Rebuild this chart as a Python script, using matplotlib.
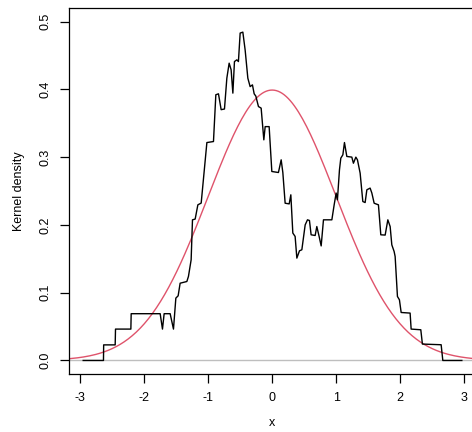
import numpy as np
import matplotlib
matplotlib.use("Agg")
from matplotlib import pyplot as plt

# kernel density estimate
dens_x = [-2.953, -2.636, -2.633, -2.453, -2.448, -2.208, -2.203, -1.750,
          -1.714, -1.688, -1.594, -1.542, -1.505, -1.469, -1.438, -1.333,
          -1.308, -1.266, -1.245, -1.203, -1.161, -1.109, -1.020, -0.917,
          -0.880, -0.839, -0.797, -0.745, -0.708, -0.672, -0.641, -0.614,
          -0.589, -0.552, -0.527, -0.500, -0.458, -0.422, -0.380, -0.344,
          -0.308, -0.281, -0.255, -0.214, -0.172, -0.130, -0.109, -0.047,
          -0.005, 0.098, 0.141, 0.167, 0.203, 0.266, 0.292, 0.323,
          0.359, 0.386, 0.427, 0.464, 0.516, 0.552, 0.583, 0.609,
          0.672, 0.698, 0.734, 0.766, 0.802, 0.933, 0.969, 1.000,
          1.020, 1.052, 1.073, 1.105, 1.130, 1.167, 1.245, 1.270,
          1.308, 1.333, 1.375, 1.417, 1.453, 1.480, 1.531, 1.558,
          1.594, 1.661, 1.698, 1.766, 1.808, 1.844, 1.870, 1.906,
          1.922, 1.958, 1.989, 2.016, 2.156, 2.172, 2.323, 2.348,
          2.641, 2.667, 2.964]
dens_y = [0.0, 0.0, 0.0230, 0.0230, 0.0463, 0.0463, 0.0690, 0.0690,
          0.0463, 0.0690, 0.0690, 0.0463, 0.0920, 0.0954, 0.1140, 0.1165,
          0.1240, 0.1485, 0.2075, 0.2086, 0.2296, 0.2322, 0.3215, 0.3230,
          0.3920, 0.3934, 0.3700, 0.3710, 0.4165, 0.4386, 0.4288, 0.3944,
          0.4410, 0.4435, 0.4410, 0.4830, 0.4844, 0.4580, 0.4165, 0.4040,
          0.4066, 0.3934, 0.3900, 0.3746, 0.3723, 0.3255, 0.3450, 0.3450,
          0.2788, 0.2773, 0.2960, 0.2773, 0.2320, 0.2310, 0.2444, 0.1880,
          0.1830, 0.1510, 0.1618, 0.1633, 0.2000, 0.2075, 0.2065, 0.1854,
          0.1844, 0.1976, 0.1830, 0.1690, 0.2075, 0.2075, 0.2296, 0.2470,
          0.2370, 0.2813, 0.2985, 0.3034, 0.3215, 0.3010, 0.3000, 0.2910,
          0.3000, 0.2960, 0.2764, 0.2345, 0.2330, 0.2518, 0.2543, 0.2470,
          0.2320, 0.2296, 0.1854, 0.1850, 0.2075, 0.1976, 0.1706, 0.1608,
          0.1534, 0.0944, 0.0895, 0.0708, 0.0699, 0.0463, 0.0453, 0.0242,
          0.0232, 0.0, 0.0]

# standard normal overlay
norm_mean = 0.0
norm_sd = 1.0

xticks = [-3, -2, -1, 0, 1, 2, 3]
yticks = [0.0, 0.1, 0.2, 0.3, 0.4, 0.5]

xlim = (-3.17, 3.17)
ylim = (-0.0204, 0.520)

plt.rcParams['font.family'] = ['Liberation Sans', 'DejaVu Sans']
plt.rcParams['axes.unicode_minus'] = False

W, H = 472, 432
fig = plt.figure(figsize=(W / 100, H / 100), dpi=100)
left, right, bottom, top = 69.3, 475.0, 374.3, 8.0
ax = fig.add_axes([left / W, (H - bottom) / H, (right - left) / W, (bottom - top) / H])

## zero line like plot.density
ax.axhline(0, color='#BEBEBE', lw=1.0, zorder=1)
ax.plot(dens_x, dens_y, color='black', lw=1.0, zorder=3)

## normal curve across the plotting region
xs = np.linspace(xlim[0], xlim[1], 201)
ys = np.exp(-0.5 * ((xs - norm_mean) / norm_sd) ** 2) / (norm_sd * np.sqrt(2 * np.pi))
ax.plot(xs, ys, color='#DF536B', lw=1.0, zorder=2)

ax.set_xlim(*xlim)
ax.set_ylim(*ylim)
ax.set_xticks(xticks)
ax.set_xticklabels([str(t) for t in xticks])
ax.set_yticks(yticks)
ax.set_yticklabels(['{:.1f}'.format(t) for t in yticks], rotation=90, va='center')

ax.tick_params(direction='out', length=6.5, width=0.9, labelsize=9, pad=6.5)
ax.tick_params(axis='y', pad=6)
for s in ax.spines.values():
    s.set_linewidth(0.9)

ax.set_xlabel('x', fontsize=9, va='center')
ax.set_ylabel('Kernel density', fontsize=9, va='center')
ax.xaxis.set_label_coords(((272 - left) / (right - left)), -(423 - bottom) / (bottom - top))
ax.yaxis.set_label_coords(-(left - 19) / (right - left), 0.5)

fig.savefig('out.png', dpi=100)
